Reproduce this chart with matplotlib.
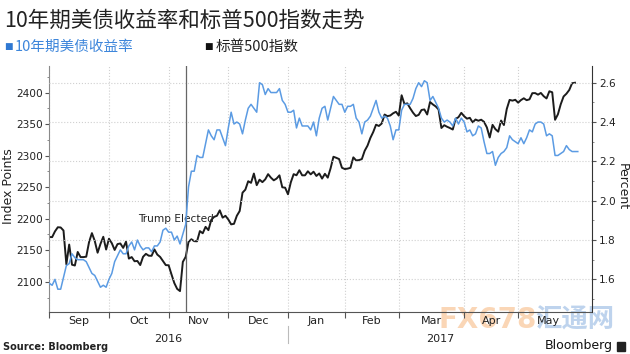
import matplotlib
matplotlib.use("Agg")
import matplotlib.pyplot as plt
import matplotlib.transforms as mtransforms
from matplotlib.patches import Rectangle
from matplotlib.ticker import MultipleLocator, FixedLocator, FormatStrFormatter
import numpy as np

# S&P 500 close, one value per trading day (31 Aug 2016 - 26 May 2017)
spx = [2170.95,
       # Sep
       2170.86, 2179.98, 2186.48, 2186.16, 2181.30, 2127.81, 2159.04, 2127.02, 2125.77, 2147.26,
       2139.16, 2139.12, 2139.76, 2163.12, 2177.18, 2164.69, 2146.10, 2159.93, 2171.37, 2151.13, 2168.27,
       # Oct
       2161.20, 2150.49, 2159.73, 2160.77, 2153.74, 2163.66, 2136.73, 2139.18, 2132.55, 2132.98,
       2126.50, 2139.60, 2144.29, 2141.34, 2141.16, 2151.33, 2143.16, 2139.43, 2133.04, 2126.41, 2126.15,
       # Nov
       2111.72, 2097.94, 2088.66, 2085.18, 2131.52, 2139.56, 2163.26, 2167.48, 2164.45, 2164.20,
       2180.39, 2176.94, 2187.12, 2181.90, 2198.18, 2202.94, 2204.72, 2213.35, 2201.72, 2204.66, 2198.81,
       # Dec
       2191.08, 2191.95, 2204.71, 2212.23, 2241.35, 2246.19, 2259.53, 2256.96, 2271.72, 2253.28,
       2262.03, 2258.07, 2262.53, 2270.76, 2265.18, 2260.96, 2263.79, 2268.88, 2249.92, 2249.26, 2238.83,
       # Jan
       2257.83, 2270.75, 2269.00, 2276.98, 2268.90, 2268.90, 2275.32, 2270.44, 2274.64, 2267.89,
       2271.89, 2263.69, 2271.31, 2265.20, 2280.07, 2298.37, 2296.68, 2294.69, 2280.90, 2278.87,
       # Feb
       2279.55, 2280.85, 2297.42, 2292.56, 2293.08, 2294.67, 2307.87, 2316.10, 2328.25, 2337.58,
       2349.25, 2347.22, 2351.16, 2365.38, 2362.82, 2363.81, 2367.34, 2369.75, 2363.64,
       # Mar
       2395.96, 2381.92, 2383.12, 2375.31, 2368.39, 2362.98, 2364.87, 2372.60, 2373.47, 2365.45,
       2385.26, 2381.38, 2378.25, 2373.47, 2344.02, 2348.45, 2345.96, 2343.98, 2341.59, 2358.57,
       2361.13, 2368.06, 2362.72,
       # Apr
       2358.84, 2360.16, 2352.95, 2357.49, 2355.54, 2357.16, 2353.78, 2344.93, 2328.95, 2349.01,
       2342.19, 2338.17, 2355.84, 2348.69, 2374.15, 2388.61, 2387.45, 2388.77, 2384.20,
       # May
       2388.33, 2391.17, 2388.13, 2389.52, 2399.29, 2399.38, 2396.92, 2399.63, 2394.44, 2390.90,
       2402.32, 2400.67, 2357.03, 2365.72, 2381.73, 2394.02, 2398.42, 2404.39, 2415.07, 2415.82]

# US 10 year treasury yield (%), same days plus one more quote at the end
yields = [1.58,
          # Sep
          1.57, 1.60, 1.55, 1.55, 1.61, 1.67, 1.68, 1.73, 1.71, 1.70, 1.70,
          1.70, 1.69, 1.66, 1.63, 1.62, 1.59, 1.56, 1.57, 1.56, 1.60,
          # Oct
          1.63, 1.69, 1.72, 1.75, 1.73, 1.73, 1.77, 1.79, 1.75, 1.80, 1.77,
          1.75, 1.76, 1.76, 1.74, 1.77, 1.77, 1.79, 1.85, 1.86, 1.84,
          # Nov
          1.84, 1.80, 1.82, 1.78, 1.83, 1.88, 2.07, 2.15, 2.15, 2.23, 2.22,
          2.22, 2.29, 2.36, 2.33, 2.31, 2.36, 2.36, 2.32, 2.28, 2.37,
          # Dec
          2.45, 2.39, 2.40, 2.39, 2.34, 2.41, 2.47, 2.49, 2.47, 2.45, 2.60,
          2.59, 2.54, 2.57, 2.55, 2.55, 2.55, 2.57, 2.51, 2.49, 2.45,
          # Jan
          2.45, 2.46, 2.37, 2.42, 2.38, 2.38, 2.38, 2.36, 2.40, 2.33,
          2.42, 2.47, 2.48, 2.41, 2.47, 2.53, 2.51, 2.49, 2.49, 2.45,
          # Feb
          2.48, 2.48, 2.49, 2.42, 2.40, 2.34, 2.40, 2.41, 2.43, 2.47,
          2.51, 2.45, 2.42, 2.43, 2.42, 2.38, 2.31, 2.36, 2.36,
          # Mar
          2.46, 2.49, 2.49, 2.49, 2.52, 2.57, 2.60, 2.58, 2.61, 2.60, 2.51, 2.53,
          2.50, 2.47, 2.42, 2.40, 2.41, 2.40, 2.38, 2.42, 2.39, 2.42, 2.40,
          # Apr
          2.35, 2.36, 2.33, 2.34, 2.38, 2.37, 2.30, 2.24, 2.24, 2.25,
          2.18, 2.22, 2.24, 2.25, 2.27, 2.33, 2.31, 2.30, 2.29,
          # May
          2.32, 2.29, 2.32, 2.36, 2.35, 2.39, 2.40, 2.40, 2.39, 2.33,
          2.34, 2.33, 2.23, 2.23, 2.24, 2.25, 2.28, 2.26, 2.25, 2.25,
          2.25]

# index of the last trading day of each month (Aug .. May)
monthEnds = [0, 21, 42, 63, 84, 104, 123, 146, 165, 186]
monthLabels = ["Sep", "Oct", "Nov", "Dec", "Jan", "Feb", "Mar", "Apr", "May"]
yearLabels = ["2016", "2017"]
yearSplit = 84
electionDay = 48

W, H = 630, 354
CJK = ["Noto Sans CJK SC", "DejaVu Sans"]
BLUE = "#5b9be3"
DARK = "#222222"


def fx(px):
    return px / W


def fy(py):
    return 1 - py / H


plt.rcParams["font.family"] = ["DejaVu Sans", "Noto Sans CJK SC"]

fig = plt.figure(figsize=(W / 100, H / 100), dpi=100)
left, right, top, bottom = 49.3, 592, 66, 312
ax = fig.add_axes([fx(left), fy(bottom), (right - left) / W, (bottom - top) / H])
ax.set_facecolor("none")
ax2 = ax.twinx()


def yAx(py):
    # pixel row -> axes fraction
    return (bottom - py) / (bottom - top)


# Watermark, kept behind everything else
fig.text(fx(488), fy(320), "FX678", fontsize=20, fontweight="bold",
         color="#f5a55e", alpha=0.45, ha="center", va="center", zorder=-5)
fig.text(fx(575), fy(320), "汇通网", family=CJK, fontsize=19, fontweight="bold",
         color="#6f9fd8", alpha=0.45, ha="center", va="center", zorder=-5)

# Lines
ax.plot(np.arange(len(spx)), spx, color="#1c1c1c", lw=1.4)
ax2.plot(np.arange(len(yields)), yields, color=BLUE, lw=1.1)
ax.axvline(electionDay, color="#666666", lw=0.9)
ax.text(31.2, 2199, "Trump Elected", fontsize=7.6, va="center", color=DARK)

# X axis
ax.set_xlim(0, 191)
ax.set_xticks(monthEnds[:-1])
ax.set_xticklabels([])
mids = [(a + b) / 2 for a, b in zip(monthEnds[:-1], monthEnds[1:])]
ax.xaxis.set_minor_locator(FixedLocator(mids))
ax.set_xticklabels(monthLabels, minor=True)
ax.tick_params(axis="x", which="major", length=4, color="#555555")
ax.tick_params(axis="x", which="minor", length=0, pad=3, labelsize=8, labelcolor=DARK)
ax.grid(axis="x", color="#d0d0d0", ls=":", lw=0.8)

# year row
blend = mtransforms.blended_transform_factory(ax.transData, ax.transAxes)
ax.text((monthEnds[0] + yearSplit) / 2, yAx(339), yearLabels[0], transform=blend,
        ha="center", va="center", fontsize=8, color=DARK)
ax.text((yearSplit + 191) / 2, yAx(339), yearLabels[1], transform=blend,
        ha="center", va="center", fontsize=8, color=DARK)
ax.plot([yearSplit, yearSplit], [yAx(326), yAx(343)], transform=blend,
        clip_on=False, color="#bbbbbb", lw=0.8)

# Left axis (index points)
ax.set_ylim(2052, 2442.4)
ax.yaxis.set_major_locator(MultipleLocator(50))
ax.yaxis.set_minor_locator(MultipleLocator(25))
ax.tick_params(axis="y", which="major", length=3, pad=1.5, labelsize=7.6,
               labelcolor=DARK, color="#555555")
ax.tick_params(axis="y", which="minor", length=1.5, color="#777777")

# Right axis (percent)
ax2.set_ylim(1.434, 2.685)
ax2.yaxis.set_major_locator(MultipleLocator(0.2))
ax2.yaxis.set_minor_locator(MultipleLocator(0.1))
ax2.yaxis.set_major_formatter(FormatStrFormatter("%.1f"))
ax2.tick_params(axis="y", which="major", length=3, pad=2, labelsize=7.6,
                labelcolor=DARK, color="#555555")
ax2.tick_params(axis="y", which="minor", length=1.5, color="#777777")
ax2.grid(axis="y", color="#d0d0d0", ls=":", lw=0.8)

for s in ["top", "right"]:
    ax.spines[s].set_visible(False)
for s in ["top", "left", "bottom"]:
    ax2.spines[s].set_visible(False)
ax.spines["left"].set_color("#8a8a8a")
ax.spines["bottom"].set_color("#555555")
ax2.spines["right"].set_color("#333333")

# Axis titles
fig.text(fx(9), fy(186), "Index Points", rotation=90, ha="center", va="center",
         fontsize=9, color=DARK)
fig.text(fx(622), fy(187), "Percent", rotation=270, ha="center", va="center",
         fontsize=9, color=DARK)

# Title and legend
fig.text(fx(4), fy(21), "10年期美债收益率和标普500指数走势", family=CJK,
         fontsize=15.5, color=DARK, va="center")
fig.text(fx(4), fy(47), "■", fontsize=6.5, color="#2f78d2", va="center")
fig.text(fx(15), fy(47), "10年期美债收益率", family=CJK, fontsize=10.5,
         color="#3d86db", va="center")
fig.text(fx(204), fy(47), "■", fontsize=6.5, color="#111111", va="center")
fig.text(fx(216), fy(47), "标普500指数", family=CJK, fontsize=10.5,
         color=DARK, va="center")

# Footer
fig.text(fx(3), fy(347), "Source: Bloomberg", fontsize=7, fontweight="bold",
         color=DARK, va="center")
fig.text(fx(613), fy(346), "Bloomberg", fontsize=9, color="#111111",
         ha="right", va="center")
fig.add_artist(Rectangle((fx(617), fy(351)), 8 / W, 9 / H, color="#222222",
                         transform=fig.transFigure))

fig.savefig("out.png", dpi=100)
